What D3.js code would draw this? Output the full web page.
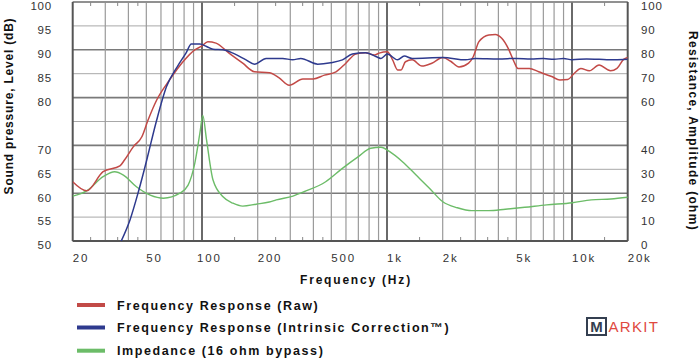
<!DOCTYPE html>
<html><head><meta charset="utf-8">
<script src="https://cdn.jsdelivr.net/npm/d3@7"></script>
<style>
html,body{margin:0;padding:0;background:#fff;}
svg{display:block;font-family:"Liberation Sans",Arial,Helvetica,sans-serif;}
</style></head>
<body>
<svg id="c" width="700" height="359"></svg>
<script>
// ---- data ----
const xTickLabels = ["20","50","100","200","500","1k","2k","5k","10k","20k"];
const xTickValues = [20,50,100,200,500,1000,2000,5000,10000,20000];
const leftTickValues = [100,95,90,85,80,70,65,60,55,50];
const rightTickValues = [100,90,80,70,60,40,30,20,10,0];

const rawFreq = [20,23.8,29.2,36,38.2,42.5,47.3,51.1,56.9,66.8,78.9,91.4,100,107.5,119,140,166,192,231,260,296,351,399,459,530,599,677,765,855,906,1004,1072,1141,1192,1258,1367,1545,1747,2003,2208,2450,2760,2930,3140,3550,3850,4170,4520,4860,5100,5880,6600,7770,8600,9480,10300,11160,12400,14000,16150,17500,19000,20000];
const rawDb = [62.4,60.5,64.5,65.7,67,69.7,71.8,75.3,79.5,83.7,87.5,90,90.8,91.7,91.4,89.3,87.2,85.4,85.2,84.2,82.6,83.9,83.9,84.7,85.4,87.2,89.1,89.4,88.9,89.3,89.6,87.9,85.8,85.8,87.5,87.9,86.6,87.2,88.4,87.6,86.4,87.2,88.6,91.7,93.1,93.2,92.4,90.3,87.5,86.1,86.1,85.4,84.4,83.7,83.8,85.1,86.1,85.6,86.8,85.6,86.1,88,88.4];

const corrFreq = [36.5,40.8,45.3,50.3,53.4,56.9,64.3,73.6,81.9,87.6,97.4,105.8,114.7,129.9,147,173,192,222,273,309,342,422,496,574,650,765,870,927,1004,1141,1240,1367,2003,2660,3000,4000,5000,6000,7000,8000,9000,10000,12000,14000,17000,20000];
const corrDb = [49.9,54.4,60.3,67,71.1,75.3,82.3,86.5,89.3,91.2,91.2,90.7,90.1,90,89.3,87.9,87,88.2,88.2,87.9,88.2,87,87.3,87.9,89.1,89.4,88.6,88.2,89.1,87.9,88.7,88.2,88.4,87.9,88.2,88.1,88.2,88.1,88.2,88.0,88.2,87.9,88.1,88.0,87.9,88.0];

const impFreq = [20,23.8,29.2,33.7,37.6,44.2,52.5,61.9,75.9,84.1,91.4,97.4,101,105.8,114.7,129.9,147,166,196,231,252,310,356,466,574,700,816,927,1034,1212,1436,1700,2003,2400,2880,3550,4360,5550,7300,10050,12700,16200,20000];
const impOhm = [18.8,21,26.9,29,27.6,22.7,19.2,17.9,20,23.4,32.5,45.1,52.5,42.3,25.5,18.5,15.8,14.6,15.4,16.3,17.2,18.8,20.6,24.8,30.4,35.3,38.8,39.2,37.4,33.2,27.6,22,16.4,13.9,12.7,12.7,13.3,14.1,15.1,16,17.2,17.6,18.3];

const seriesNames = ["Frequency Response (Raw)","Frequency Response (Intrinsic Correction™)","Impedance (16 ohm bypass)"];
const seriesColors = ["#c24a47","#2e3a8e","#6cbc68"];

// ---- layout ----
const L = 72.7, R = 627.7, T = 2, B = 241;
const svg = d3.select("#c");
const x = d3.scaleLog().domain([20,20000]).range([L,R]);
const yL = d3.scaleLinear().domain([50,100]).range([B,T]);
const yR = d3.scaleLinear().domain([0,100]).range([B,T]);

const g = svg.append("g");

// horizontal grid
d3.range(50,101,5).forEach(v=>{
  const major = v%10===0;
  g.append("line").attr("x1",L).attr("x2",R).attr("y1",yL(v)).attr("y2",yL(v))
   .attr("stroke", major?"#7a7a7a":"#a8a8a8").attr("stroke-width", major?1.6:1);
});
// vertical grid
const gridF = [];
[10,100,1000,10000].forEach(d=>{for(let k=1;k<=9;k++){const f=d*k; if(f>20&&f<20000) gridF.push(f);}});
gridF.forEach(f=>{
  const major = (f===100||f===1000||f===10000);
  g.append("line").attr("x1",x(f)).attr("x2",x(f)).attr("y1",T).attr("y2",B)
   .attr("stroke", major?"#6a6a6a":"#9a9a9a").attr("stroke-width", major?2:1.2);
});
// minor ticks
const minorF = [25,35,45,150,250,350,450,1500,2500,3500,4500,15000];
minorF.forEach(f=>{
  g.append("line").attr("x1",x(f)).attr("x2",x(f)).attr("y1",T).attr("y2",T+4).attr("stroke","#888").attr("stroke-width",1);
  g.append("line").attr("x1",x(f)).attr("x2",x(f)).attr("y1",B-4).attr("y2",B).attr("stroke","#888").attr("stroke-width",1);
});
// frame
g.append("line").attr("x1",L).attr("x2",R).attr("y1",T).attr("y2",T).attr("stroke","#888").attr("stroke-width",1.2);
g.append("line").attr("x1",L).attr("x2",R).attr("y1",B).attr("y2",B).attr("stroke","#555").attr("stroke-width",2);
g.append("line").attr("x1",L).attr("x2",L).attr("y1",T).attr("y2",B).attr("stroke","#555").attr("stroke-width",2);
g.append("line").attr("x1",R).attr("x2",R).attr("y1",T).attr("y2",B).attr("stroke","#555").attr("stroke-width",2);

// clip
svg.append("clipPath").attr("id","pc").append("rect").attr("x",L).attr("y",T).attr("width",R-L).attr("height",B-T);

const mk = (fs, vs, ys)=> d3.line().x((d,i)=>x(fs[i])).y((d,i)=>ys(vs[i])).curve(d3.curveMonotoneX)(vs);
const lines = svg.append("g").attr("clip-path","url(#pc)").attr("fill","none");
lines.append("path").attr("d",mk(impFreq,impOhm,yR)).attr("stroke",seriesColors[2]).attr("stroke-width",1.4);
lines.append("path").attr("d",mk(rawFreq,rawDb,yL)).attr("stroke",seriesColors[0]).attr("stroke-width",1.5);
lines.append("path").attr("d",mk(corrFreq,corrDb,yL)).attr("stroke",seriesColors[1]).attr("stroke-width",1.5);

// tick labels
const tickStyle = s=>s.attr("font-size",11.5).attr("fill","#333").attr("letter-spacing",0.8);
xTickValues.forEach((f,i)=>{
  svg.append("text").attr("x",x(f)+(f===100?-5:0)).attr("y",261.5).attr("text-anchor","start")
    .text(xTickLabels[i]).call(tickStyle).attr("letter-spacing",1.8);
});
leftTickValues.forEach(v=>{
  svg.append("text").attr("x",52).attr("y",yL(v)+8.3).attr("text-anchor","end").text(v).call(tickStyle);
});
rightTickValues.forEach(v=>{
  svg.append("text").attr("x",641).attr("y",yR(v)+8.3).attr("text-anchor","start").text(v).call(tickStyle);
});

// axis titles
svg.append("text").attr("transform","translate(12.5,106) rotate(-90)").attr("text-anchor","middle")
  .attr("font-size",12).attr("font-weight","bold").attr("fill","#111").attr("letter-spacing",0.8)
  .text("Sound pressure, Level (dB)");
svg.append("text").attr("transform","translate(689,131) rotate(90)").attr("text-anchor","middle")
  .attr("font-size",12).attr("font-weight","bold").attr("fill","#111").attr("letter-spacing",1.3)
  .text("Resistance, Amplitude (ohm)");
svg.append("text").attr("x",356).attr("y",284).attr("text-anchor","middle")
  .attr("font-size",12).attr("font-weight","bold").attr("fill","#111").attr("letter-spacing",1.8)
  .text("Frequency (Hz)");

// legend
const legY = [305,327.5,350.7];
seriesNames.forEach((n,i)=>{
  svg.append("rect").attr("x",77).attr("y",legY[i]-2).attr("width",28).attr("height",4).attr("fill",seriesColors[i]);
  svg.append("text").attr("x",117).attr("y",legY[i]+4.5).attr("font-size",12.5).attr("font-weight","bold")
    .attr("fill","#111").attr("letter-spacing",1.6).text(n);
});

// logo
svg.append("rect").attr("x",587).attr("y",318).attr("width",19).attr("height",17).attr("fill","none").attr("stroke","#343f50").attr("stroke-width",2);
svg.append("text").attr("x",596.5).attr("y",332).attr("text-anchor","middle").attr("font-size",15).attr("font-weight","bold").attr("fill","#343f50").text("M");
svg.append("text").attr("x",608.5).attr("y",332).attr("font-size",15).attr("fill","#e0493f").attr("letter-spacing",1.3).text("ARKIT");
</script>
</body></html>
